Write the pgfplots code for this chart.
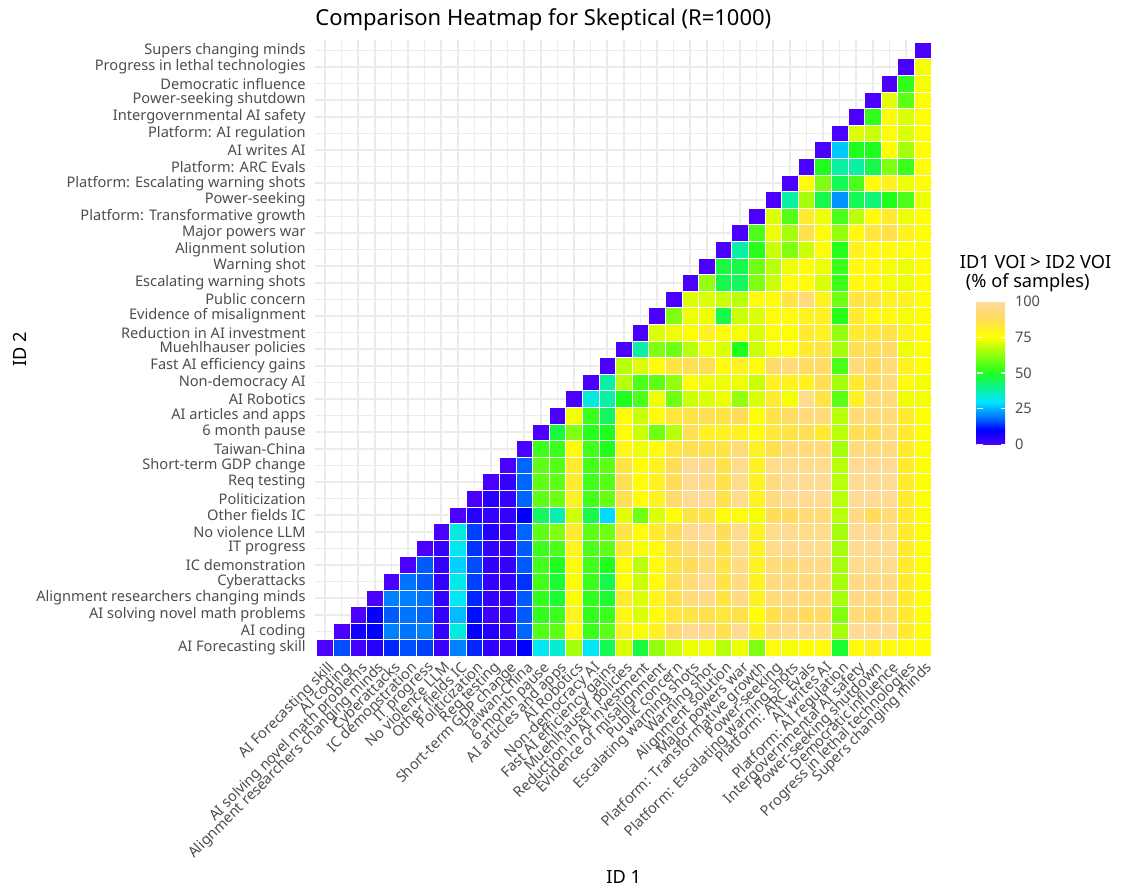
\documentclass[border=0pt]{standalone}
\usepackage{fontspec}
\setmainfont{Noto Sans}
\usepackage{pgfplots}
\pgfplotsset{compat=1.18}
\definecolor{gridc}{RGB}{235,235,235}
\definecolor{labc}{RGB}{77,77,77}
\begin{document}
\begin{tikzpicture}
\path[use as bounding box] (-157.52pt,-115.02pt) rectangle (405.48pt,328.98pt);
\begin{axis}[
  at={(0,0)}, anchor=south west,
  x=8.3pt, y=8.3pt,
  xmin=-0.6, xmax=36.6, ymin=-0.6, ymax=36.6,
  clip=false,
  axis line style={draw=none},
  major tick length=0pt,
  grid=major,
  major grid style={draw=gridc, line width=0.85pt},
  xtick={0,...,36}, ytick={0,...,36},
  xticklabels={AI Forecasting skill, AI coding, AI solving novel math problems, Alignment researchers changing minds, Cyberattacks, IC demonstration, IT progress, No violence LLM, Other fields IC, Politicization, Req testing, Short-term GDP change, Taiwan-China, 6 month pause, AI articles and apps, AI Robotics, Non-democracy AI, Fast AI efficiency gains, Muehlhauser policies, Reduction in AI investment, Evidence of misalignment, Public concern, Escalating warning shots, Warning shot, Alignment solution, Major powers war, Platform: Transformative growth, Power-seeking, Platform: Escalating warning shots, Platform: ARC Evals, AI writes AI, Platform: AI regulation, Intergovernmental AI safety, Power-seeking shutdown, Democratic influence, Progress in lethal technologies, Supers changing minds},
  yticklabels={AI Forecasting skill, AI coding, AI solving novel math problems, Alignment researchers changing minds, Cyberattacks, IC demonstration, IT progress, No violence LLM, Other fields IC, Politicization, Req testing, Short-term GDP change, Taiwan-China, 6 month pause, AI articles and apps, AI Robotics, Non-democracy AI, Fast AI efficiency gains, Muehlhauser policies, Reduction in AI investment, Evidence of misalignment, Public concern, Escalating warning shots, Warning shot, Alignment solution, Major powers war, Platform: Transformative growth, Power-seeking, Platform: Escalating warning shots, Platform: ARC Evals, AI writes AI, Platform: AI regulation, Intergovernmental AI safety, Power-seeking shutdown, Democratic influence, Progress in lethal technologies, Supers changing minds},
  xticklabel style={font=\fontsize{7.3}{8.8}\selectfont, text=labc, rotate=45, anchor=north east, inner sep=0pt, yshift=-1.5pt},
  yticklabel style={font=\fontsize{7.3}{8.8}\selectfont, text=labc, anchor=east, inner sep=0pt, xshift=-4.5pt},
  colormap={voi}{rgb255(0pt)=(75,0,255) rgb255(10pt)=(0,0,255) rgb255(20pt)=(0,128,255) rgb255(30pt)=(0,230,255) rgb255(50pt)=(30,255,30) rgb255(75pt)=(255,255,0) rgb255(88pt)=(255,220,90) rgb255(100pt)=(255,218,165)},
  point meta min=0, point meta max=100,
  colorbar,
  colorbar style={
    at={(parent axis.north east)}, anchor=north west, xshift=13.5pt, yshift=-130.5pt,
    width=15pt, height=71.5pt,
    ytick={0,25,50,75,100}, yticklabels={0,25,50,75,100},
    ytick pos=both, yticklabel pos=right,
    yticklabel style={font=\fontsize{7.3}{8.8}\selectfont, text=labc, inner sep=0pt, xshift=4pt, anchor=west},
    axis line style={draw=none},
    major tick length=3pt, tick align=inside,
    ytick style={draw=white, line width=0.6pt},
  },
]
\addplot[scatter, only marks, mark=square*, mark size=4.15pt,
  scatter/use mapped color={draw=white, fill=mapped color, line width=0.35pt},
  point meta=explicit]
  table[x=x, y=y, meta=v, row sep=\\]{
x y v\\
0 0 0\\ 1 0 16\\ 2 0 1\\ 3 0 5\\ 4 0 13\\ 5 0 16\\ 6 0 15\\ 7 0 2\\ 8 0 20\\ 9 0 13\\ 10 0 4\\ 11 0 3\\ 12 0 10\\ 13 0 31\\ 14 0 34\\ 15 0 65\\ 16 0 31\\ 17 0 45\\ 18 0 71\\ 19 0 47\\ 20 0 63\\ 21 0 69\\ 22 0 73\\ 23 0 73\\ 24 0 67\\ 25 0 73\\ 26 0 61\\ 27 0 76\\ 28 0 74\\ 29 0 75\\ 30 0 76\\ 31 0 48\\ 32 0 76\\ 33 0 80\\ 34 0 77\\ 35 0 76\\ 36 0 75\\
1 1 0\\ 2 1 8\\ 3 1 10\\ 4 1 20\\ 5 1 19\\ 6 1 20\\ 7 1 3\\ 8 1 33\\ 9 1 9\\ 10 1 5\\ 11 1 3\\ 12 1 18\\ 13 1 56\\ 14 1 57\\ 15 1 77\\ 16 1 53\\ 17 1 57\\ 18 1 80\\ 19 1 74\\ 20 1 80\\ 21 1 91\\ 22 1 97\\ 23 1 95\\ 24 1 86\\ 25 1 97\\ 26 1 80\\ 27 1 94\\ 28 1 96\\ 29 1 96\\ 30 1 96\\ 31 1 65\\ 32 1 97\\ 33 1 97\\ 34 1 97\\ 35 1 82\\ 36 1 75\\
2 2 0\\ 3 2 9\\ 4 2 17\\ 5 2 19\\ 6 2 18\\ 7 2 3\\ 8 2 26\\ 9 2 11\\ 10 2 2\\ 11 2 3\\ 12 2 17\\ 13 2 52\\ 14 2 53\\ 15 2 79\\ 16 2 52\\ 17 2 53\\ 18 2 78\\ 19 2 71\\ 20 2 76\\ 21 2 84\\ 22 2 85\\ 23 2 86\\ 24 2 84\\ 25 2 86\\ 26 2 75\\ 27 2 86\\ 28 2 91\\ 29 2 89\\ 30 2 90\\ 31 2 61\\ 32 2 93\\ 33 2 91\\ 34 2 93\\ 35 2 82\\ 36 2 75\\
3 3 0\\ 4 3 20\\ 5 3 20\\ 6 3 19\\ 7 3 3\\ 8 3 31\\ 9 3 13\\ 10 3 3\\ 11 3 3\\ 12 3 17\\ 13 3 52\\ 14 3 48\\ 15 3 76\\ 16 3 52\\ 17 3 48\\ 18 3 82\\ 19 3 71\\ 20 3 79\\ 21 3 86\\ 22 3 93\\ 23 3 95\\ 24 3 85\\ 25 3 95\\ 26 3 80\\ 27 3 93\\ 28 3 95\\ 29 3 94\\ 30 3 94\\ 31 3 65\\ 32 3 95\\ 33 3 94\\ 34 3 95\\ 35 3 82\\ 36 3 75\\
4 4 0\\ 5 4 19\\ 6 4 17\\ 7 4 3\\ 8 4 32\\ 9 4 15\\ 10 4 3\\ 11 4 3\\ 12 4 14\\ 13 4 54\\ 14 4 48\\ 15 4 76\\ 16 4 53\\ 17 4 46\\ 18 4 76\\ 19 4 69\\ 20 4 77\\ 21 4 87\\ 22 4 93\\ 23 4 97\\ 24 4 85\\ 25 4 95\\ 26 4 80\\ 27 4 94\\ 28 4 94\\ 29 4 94\\ 30 4 94\\ 31 4 65\\ 32 4 95\\ 33 4 95\\ 34 4 95\\ 35 4 82\\ 36 4 75\\
5 5 0\\ 6 5 17\\ 7 5 3\\ 8 5 28\\ 9 5 16\\ 10 5 4\\ 11 5 3\\ 12 5 17\\ 13 5 54\\ 14 5 50\\ 15 5 76\\ 16 5 54\\ 17 5 50\\ 18 5 76\\ 19 5 67\\ 20 5 76\\ 21 5 85\\ 22 5 88\\ 23 5 93\\ 24 5 85\\ 25 5 95\\ 26 5 80\\ 27 5 93\\ 28 5 92\\ 29 5 95\\ 30 5 95\\ 31 5 65\\ 32 5 96\\ 33 5 96\\ 34 5 96\\ 35 5 82\\ 36 5 75\\
6 6 0\\ 7 6 3\\ 8 6 31\\ 9 6 14\\ 10 6 3\\ 11 6 3\\ 12 6 17\\ 13 6 53\\ 14 6 55\\ 15 6 79\\ 16 6 55\\ 17 6 57\\ 18 6 82\\ 19 6 74\\ 20 6 76\\ 21 6 87\\ 22 6 93\\ 23 6 95\\ 24 6 85\\ 25 6 96\\ 26 6 80\\ 27 6 96\\ 28 6 97\\ 29 6 97\\ 30 6 96\\ 31 6 65\\ 32 6 97\\ 33 6 97\\ 34 6 97\\ 35 6 82\\ 36 6 75\\
7 7 0\\ 8 7 33\\ 9 7 15\\ 10 7 5\\ 11 7 3\\ 12 7 18\\ 13 7 57\\ 14 7 61\\ 15 7 82\\ 16 7 57\\ 17 7 59\\ 18 7 85\\ 19 7 76\\ 20 7 82\\ 21 7 88\\ 22 7 97\\ 23 7 97\\ 24 7 88\\ 25 7 97\\ 26 7 80\\ 27 7 96\\ 28 7 97\\ 29 7 96\\ 30 7 96\\ 31 7 65\\ 32 7 97\\ 33 7 97\\ 34 7 96\\ 35 7 82\\ 36 7 75\\
8 8 0\\ 9 8 5\\ 10 8 3\\ 11 8 3\\ 12 8 10\\ 13 8 44\\ 14 8 37\\ 15 8 70\\ 16 8 46\\ 17 8 29\\ 18 8 72\\ 19 8 59\\ 20 8 71\\ 21 8 76\\ 22 8 85\\ 23 8 85\\ 24 8 76\\ 25 8 77\\ 26 8 74\\ 27 8 88\\ 28 8 89\\ 29 8 93\\ 30 8 93\\ 31 8 67\\ 32 8 95\\ 33 8 88\\ 34 8 93\\ 35 8 82\\ 36 8 75\\
9 9 0\\ 10 9 5\\ 11 9 3\\ 12 9 18\\ 13 9 57\\ 14 9 59\\ 15 9 80\\ 16 9 54\\ 17 9 58\\ 18 9 87\\ 19 9 76\\ 20 9 80\\ 21 9 91\\ 22 9 97\\ 23 9 97\\ 24 9 86\\ 25 9 96\\ 26 9 80\\ 27 9 94\\ 28 9 97\\ 29 9 97\\ 30 9 97\\ 31 9 67\\ 32 9 97\\ 33 9 97\\ 34 9 97\\ 35 9 82\\ 36 9 75\\
10 10 0\\ 11 10 3\\ 12 10 18\\ 13 10 57\\ 14 10 57\\ 15 10 82\\ 16 10 54\\ 17 10 56\\ 18 10 87\\ 19 10 76\\ 20 10 80\\ 21 10 88\\ 22 10 97\\ 23 10 95\\ 24 10 86\\ 25 10 96\\ 26 10 80\\ 27 10 94\\ 28 10 97\\ 29 10 97\\ 30 10 97\\ 31 10 67\\ 32 10 97\\ 33 10 97\\ 34 10 97\\ 35 10 82\\ 36 10 75\\
11 11 0\\ 12 11 18\\ 13 11 57\\ 14 11 56\\ 15 11 82\\ 16 11 54\\ 17 11 57\\ 18 11 85\\ 19 11 76\\ 20 11 80\\ 21 11 88\\ 22 11 97\\ 23 11 95\\ 24 11 86\\ 25 11 96\\ 26 11 80\\ 27 11 96\\ 28 11 96\\ 29 11 96\\ 30 11 96\\ 31 11 67\\ 32 11 97\\ 33 11 97\\ 34 11 97\\ 35 11 82\\ 36 11 75\\
12 12 0\\ 13 12 53\\ 14 12 53\\ 15 12 76\\ 16 12 54\\ 17 12 50\\ 18 12 78\\ 19 12 73\\ 20 12 76\\ 21 12 84\\ 22 12 87\\ 23 12 86\\ 24 12 85\\ 25 12 93\\ 26 12 80\\ 27 12 86\\ 28 12 93\\ 29 12 93\\ 30 12 93\\ 31 12 65\\ 32 12 94\\ 33 12 94\\ 34 12 94\\ 35 12 82\\ 36 12 75\\
13 13 0\\ 14 13 47\\ 15 13 61\\ 16 13 51\\ 17 13 50\\ 18 13 76\\ 19 13 69\\ 20 13 59\\ 21 13 67\\ 22 13 87\\ 23 13 80\\ 24 13 80\\ 25 13 80\\ 26 13 76\\ 27 13 84\\ 28 13 85\\ 29 13 87\\ 30 13 82\\ 31 13 67\\ 32 13 87\\ 33 13 87\\ 34 13 93\\ 35 13 82\\ 36 13 75\\
14 14 0\\ 15 14 74\\ 16 14 53\\ 17 14 44\\ 18 14 76\\ 19 14 69\\ 20 14 76\\ 21 14 84\\ 22 14 85\\ 23 14 87\\ 24 14 85\\ 25 14 88\\ 26 14 76\\ 27 14 85\\ 28 14 90\\ 29 14 93\\ 30 14 93\\ 31 14 67\\ 32 14 93\\ 33 14 93\\ 34 14 93\\ 35 14 82\\ 36 14 75\\
15 15 0\\ 16 15 33\\ 17 15 38\\ 18 15 50\\ 19 15 55\\ 20 15 73\\ 21 15 59\\ 22 15 69\\ 23 15 71\\ 24 15 73\\ 25 15 63\\ 26 15 71\\ 27 15 82\\ 28 15 74\\ 29 15 96\\ 30 15 85\\ 31 15 57\\ 32 15 80\\ 33 15 93\\ 34 15 93\\ 35 15 73\\ 36 15 74\\
16 16 0\\ 17 16 38\\ 18 16 67\\ 19 16 55\\ 20 16 57\\ 21 16 63\\ 22 16 76\\ 23 16 73\\ 24 16 73\\ 25 16 73\\ 26 16 69\\ 27 16 80\\ 28 16 80\\ 29 16 80\\ 30 16 87\\ 31 16 65\\ 32 16 82\\ 33 16 90\\ 34 16 93\\ 35 16 77\\ 36 16 74\\
17 17 0\\ 18 17 67\\ 19 17 71\\ 20 17 76\\ 21 17 85\\ 22 17 87\\ 23 17 87\\ 24 17 77\\ 25 17 80\\ 26 17 76\\ 27 17 91\\ 28 17 93\\ 29 17 90\\ 30 17 90\\ 31 17 55\\ 32 17 93\\ 33 17 89\\ 34 17 93\\ 35 17 80\\ 36 17 75\\
18 18 0\\ 19 18 38\\ 20 18 61\\ 21 18 59\\ 22 18 67\\ 23 18 73\\ 24 18 71\\ 25 18 50\\ 26 18 69\\ 27 18 74\\ 28 18 76\\ 29 18 82\\ 30 18 85\\ 31 18 65\\ 32 18 87\\ 33 18 87\\ 34 18 90\\ 35 18 73\\ 36 18 75\\
19 19 0\\ 20 19 71\\ 21 19 73\\ 22 19 76\\ 23 19 80\\ 24 19 76\\ 25 19 74\\ 26 19 71\\ 27 19 76\\ 28 19 76\\ 29 19 82\\ 30 19 80\\ 31 19 63\\ 32 19 82\\ 33 19 84\\ 34 19 86\\ 35 19 80\\ 36 19 75\\
20 20 0\\ 21 20 61\\ 22 20 73\\ 23 20 73\\ 24 20 46\\ 25 20 69\\ 26 20 71\\ 27 20 76\\ 28 20 77\\ 29 20 80\\ 30 20 80\\ 31 20 51\\ 32 20 82\\ 33 20 77\\ 34 20 77\\ 35 20 74\\ 36 20 75\\
21 21 0\\ 22 21 71\\ 23 21 71\\ 24 21 69\\ 25 21 67\\ 26 21 76\\ 27 21 76\\ 28 21 85\\ 29 21 93\\ 30 21 80\\ 31 21 59\\ 32 21 85\\ 33 21 84\\ 34 21 80\\ 35 21 80\\ 36 21 75\\
22 22 0\\ 23 22 63\\ 24 22 46\\ 25 22 44\\ 26 22 61\\ 27 22 69\\ 28 22 76\\ 29 22 76\\ 30 22 71\\ 31 22 53\\ 32 22 77\\ 33 22 77\\ 34 22 74\\ 35 22 73\\ 36 22 75\\
23 23 0\\ 24 23 47\\ 25 23 46\\ 26 23 59\\ 27 23 67\\ 28 23 73\\ 29 23 76\\ 30 23 73\\ 31 23 53\\ 32 23 77\\ 33 23 77\\ 34 23 74\\ 35 23 73\\ 36 23 75\\
24 24 0\\ 25 24 38\\ 26 24 51\\ 27 24 69\\ 28 24 61\\ 29 24 69\\ 30 24 76\\ 31 24 51\\ 32 24 80\\ 33 24 77\\ 34 24 77\\ 35 24 76\\ 36 24 75\\
25 25 0\\ 26 25 55\\ 27 25 73\\ 28 25 65\\ 29 25 86\\ 30 25 76\\ 31 25 63\\ 32 25 77\\ 33 25 84\\ 34 25 86\\ 35 25 80\\ 36 25 75\\
26 26 0\\ 27 26 71\\ 28 26 56\\ 29 26 82\\ 30 26 73\\ 31 26 55\\ 32 26 67\\ 33 26 76\\ 34 26 82\\ 35 26 73\\ 36 26 75\\
27 27 0\\ 28 27 38\\ 29 27 65\\ 30 27 46\\ 31 27 22\\ 32 27 45\\ 33 27 42\\ 34 27 50\\ 35 27 55\\ 36 27 73\\
28 28 0\\ 29 28 76\\ 30 28 61\\ 31 28 45\\ 32 28 55\\ 33 28 76\\ 34 28 80\\ 35 28 73\\ 36 28 76\\
29 29 0\\ 30 29 50\\ 31 29 38\\ 32 29 38\\ 33 29 46\\ 34 29 61\\ 35 29 53\\ 36 29 76\\
30 30 0\\ 31 30 27\\ 32 30 50\\ 33 30 50\\ 34 30 75\\ 35 30 65\\ 36 30 75\\
31 31 0\\ 32 31 71\\ 33 31 69\\ 34 31 76\\ 35 31 71\\ 36 31 75\\
32 32 0\\ 33 32 52\\ 34 32 76\\ 35 32 71\\ 36 32 75\\
33 33 0\\ 34 33 72\\ 35 33 57\\ 36 33 75\\
34 34 0\\ 35 34 52\\ 36 34 74\\
35 35 0\\ 36 35 74\\
36 36 0\\
};
\node[anchor=base west, inner sep=0pt, yshift=7.5pt, font=\fontsize{11}{13}\selectfont] at (rel axis cs:0,1) {Comparison Heatmap for Skeptical (R=1000)};
\node[anchor=base west, inner sep=0pt, xshift=13.5pt, yshift=-114pt, font=\fontsize{9.1}{11}\selectfont] at (rel axis cs:1,1) {ID1 VOI > ID2 VOI};
\node[anchor=base west, inner sep=0pt, xshift=16.5pt, yshift=-123.5pt, font=\fontsize{9.1}{11}\selectfont] at (rel axis cs:1,1) {(\% of samples)};
\node[anchor=center, inner sep=0pt, xshift=-147.5pt, rotate=90, font=\fontsize{9.1}{11}\selectfont] at (rel axis cs:0,0.5) {ID 2};
\node[anchor=center, inner sep=0pt, yshift=-109.5pt, font=\fontsize{9.1}{11}\selectfont] at (rel axis cs:0.5,0) {ID 1};
\end{axis}
\end{tikzpicture}
\end{document}
